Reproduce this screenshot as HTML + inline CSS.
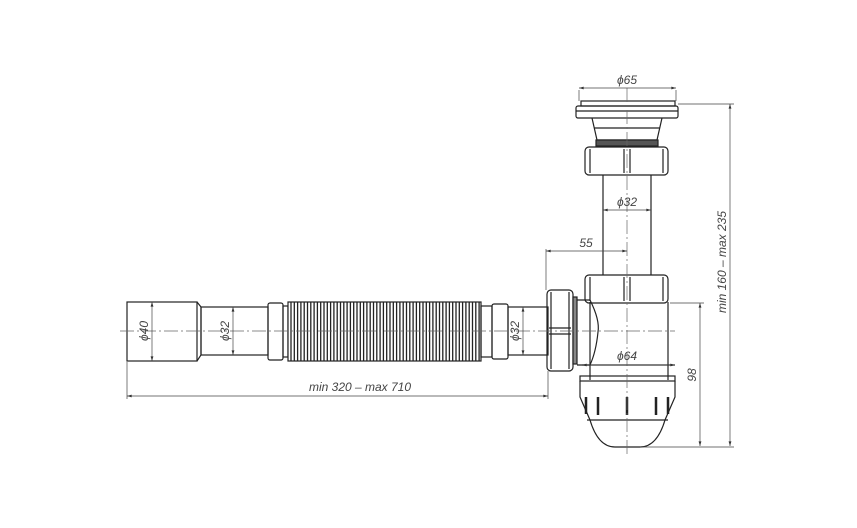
<!DOCTYPE html>
<html><head><meta charset="utf-8"><style>
html,body{margin:0;padding:0;background:#fff;}
svg{display:block;}
text{font-family:"Liberation Sans",sans-serif;font-style:italic;font-size:12px;fill:#444;}
</style></head><body>
<svg width="857" height="528" viewBox="0 0 857 528" xmlns="http://www.w3.org/2000/svg">
<defs>
<marker id="a" viewBox="0 0 10 6" refX="10" refY="3" markerWidth="9" markerHeight="4" orient="auto-start-reverse"><path d="M0,0 L10,3 L0,6 z" fill="#333"/></marker>
</defs>
<g fill="none" stroke="#222" stroke-width="1.2">
<!-- horizontal pipe -->
<rect x="127" y="302" width="70" height="59"/>
<path d="M197,302 L201,307 L201,355 L197,361"/>
<rect x="201" y="307" width="67" height="48"/>
<rect x="268" y="303" width="15" height="57" rx="2"/>
<rect x="283" y="306" width="5" height="51"/>
<rect x="288" y="302" width="193" height="59" fill="#fff"/>
<rect x="481" y="306" width="11" height="51"/>
<rect x="492" y="304" width="16" height="55" rx="2"/>
<rect x="508" y="307" width="40" height="48"/>
</g>
<g stroke="#222" stroke-width="1.3">
<path d="M291,302V361M294.3,302V361M297.6,302V361M300.9,302V361M304.2,302V361M307.5,302V361M310.8,302V361M314.1,302V361M317.4,302V361M320.7,302V361M324,302V361M327.3,302V361M330.6,302V361M333.9,302V361M337.2,302V361M340.5,302V361M343.8,302V361M347.1,302V361M350.4,302V361M353.7,302V361M357,302V361M360.3,302V361M363.6,302V361M366.9,302V361M370.2,302V361M373.5,302V361M376.8,302V361M380.1,302V361M383.4,302V361M386.7,302V361M390,302V361M393.3,302V361M396.6,302V361M399.9,302V361M403.2,302V361M406.5,302V361M409.8,302V361M413.1,302V361M416.4,302V361M419.7,302V361M423,302V361M426.3,302V361M429.6,302V361M432.9,302V361M436.2,302V361M439.5,302V361M442.8,302V361M446.1,302V361M449.4,302V361M452.7,302V361M456,302V361M459.3,302V361M462.6,302V361M465.9,302V361M469.2,302V361M472.5,302V361M475.8,302V361M479.1,302V361"/>
</g>
<g fill="none" stroke="#222" stroke-width="1.2">
<!-- side nut -->
<rect x="547" y="290" width="26" height="81" rx="4"/>
<path d="M551,292V369M569,292V369M549,328H571M549,334H571"/>
<rect x="573" y="297" width="4" height="67" fill="#888"/>
<path d="M577,300 H590 Q600,320 598,332 Q596,352 590,365 H577"/>
<!-- trap body -->
<path d="M590,302 V380 M668,302 V380 M582,365 H675"/>
<!-- lower cup -->
<rect x="580" y="376" width="95" height="5"/>
<path d="M580,381 V397 L590,420 Q598,447 615,447 H640 Q657,447 665,420 L675,397 V381"/>
<path d="M587,420 H668"/>
<path d="M586,397v17M598,397v18M627,397v18M656,397v18M668,397v17" stroke-width="2.5"/>
<!-- top flange -->
<rect x="581" y="101" width="94" height="5"/>
<rect x="576" y="106" width="102" height="12" rx="2"/>
<path d="M576,111 H678"/>
<path d="M592,118 L597,140 H657 L662,118"/>
<path d="M594,128 H660"/>
<rect x="596" y="140" width="62" height="6" fill="#555"/>
<!-- upper nut -->
<rect x="585" y="147" width="83" height="28" rx="4"/>
<path d="M590,149V173M663,149V173M624,149V173M630,149V173"/>
<!-- vertical pipe -->
<path d="M603,175 V275 M651,175 V275"/>
<!-- lower nut -->
<rect x="585" y="275" width="83" height="28" rx="4"/>
<path d="M590,277V301M663,277V301M624,277V301M630,277V301"/>
</g>
<!-- centerlines -->
<g stroke="#666" stroke-width="0.7" stroke-dasharray="14,3,2,3" fill="none">
<path d="M120,331 H675"/>
<path d="M627,88 V455"/>
</g>
<!-- dimension lines -->
<g stroke="#444" stroke-width="0.7" fill="none">
<path d="M579,88 H676" marker-start="url(#a)" marker-end="url(#a)"/>
<path d="M579,90 V101 M676,90 V101"/>
<path d="M603,210 H651" marker-start="url(#a)" marker-end="url(#a)"/>
<path d="M546,251 H627" marker-start="url(#a)" marker-end="url(#a)"/>
<path d="M546,249 V290"/>
<path d="M582,365 H675" marker-start="url(#a)" marker-end="url(#a)"/>
<path d="M127,396 H548" marker-start="url(#a)" marker-end="url(#a)"/>
<path d="M127,362 V399 M548,371 V399"/>
<path d="M152,302 V361" marker-start="url(#a)" marker-end="url(#a)"/>
<path d="M233,307 V355" marker-start="url(#a)" marker-end="url(#a)"/>
<path d="M523,307 V355" marker-start="url(#a)" marker-end="url(#a)"/>
<path d="M700,303 V446" marker-start="url(#a)" marker-end="url(#a)"/>
<path d="M730,104 V446" marker-start="url(#a)" marker-end="url(#a)"/>
<path d="M678,104 H734 M670,303 H704 M640,447 H734"/>
</g>
<g>
<text x="627" y="84" text-anchor="middle">ϕ65</text>
<text x="627" y="206" text-anchor="middle">ϕ32</text>
<text x="586" y="247" text-anchor="middle">55</text>
<text x="627" y="360" text-anchor="middle">ϕ64</text>
<text x="360" y="391" text-anchor="middle">min 320 – max 710</text>
<text transform="translate(148,331) rotate(-90)" text-anchor="middle">ϕ40</text>
<text transform="translate(229,331) rotate(-90)" text-anchor="middle">ϕ32</text>
<text transform="translate(519,331) rotate(-90)" text-anchor="middle">ϕ32</text>
<text transform="translate(696,375) rotate(-90)" text-anchor="middle">98</text>
<text transform="translate(726,262) rotate(-90)" text-anchor="middle">min 160 – max 235</text>
</g>
</svg>
</body></html>
